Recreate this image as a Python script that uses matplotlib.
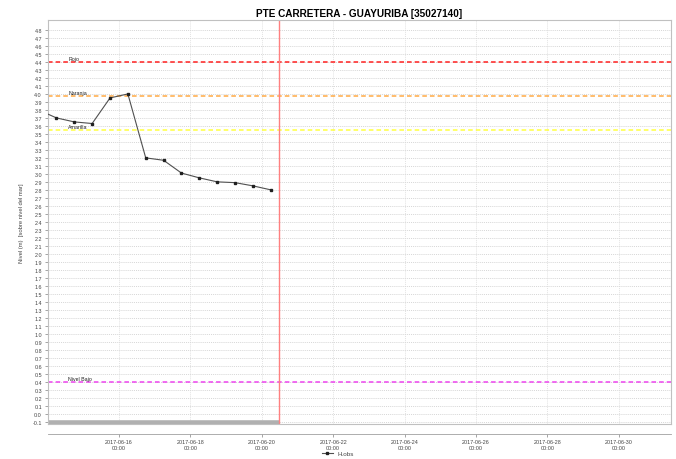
import numpy as np
import pandas as pd
import matplotlib
matplotlib.use('Agg')
import matplotlib.pyplot as plt
import matplotlib.dates as mdates

plt.rcParams['font.family'] = ['Liberation Sans', 'DejaVu Sans']

# observed level every 12 h (first point lies just left of the view)
obs_times = pd.date_range('2017-06-13 18:00', '2017-06-20 06:00', freq='12h')
obs_values = [3.80, 3.70, 3.65, 3.63, 3.95, 4.00, 3.20, 3.17, 3.01, 2.95, 2.90, 2.89, 2.85, 2.80]

# alert thresholds
thr_names = ['Rojo', 'Naranja', 'Amarilla', 'Nivel Bajo']
thr_values = [4.40, 3.97, 3.55, 0.39]
thr_colors = ['#ff2020', '#ffaa44', '#ffff40', '#ee44ee']

now_time = pd.Timestamp('2017-06-20 11:25')
x_start = pd.Timestamp('2017-06-14 00:00')
x_end = pd.Timestamp('2017-07-01 11:00')
y_ticks = np.round(np.arange(-0.1, 4.81, 0.1), 1)
x_ticks = pd.date_range('2017-06-16', '2017-06-30', freq='2D')

fig = plt.figure(figsize=(6.76, 4.60), dpi=100)
ax = fig.add_axes([0.0703, 0.0761, 0.9223, 0.8782])

# grid
for yv in y_ticks:
    ax.axhline(yv, color='#c8c8c8', lw=0.5, ls=(0, (1.5, 1.5)), zorder=0)
for xv in x_ticks:
    ax.axvline(xv, color='#d8d8d8', lw=0.5, ls=(0, (1.5, 1.5)), zorder=0)

# thresholds
label_x = pd.Timestamp('2017-06-14 14:00')
for name, val, col in zip(thr_names, thr_values, thr_colors):
    ax.axhline(val, color=col, lw=1.1, ls=(0, (3, 2)), zorder=2)
    ax.text(label_x, val + 0.015, name, fontsize=3.8, color='#222222',
            va='bottom', ha='left', zorder=3)

# data availability band and current time
ax.plot([x_start, now_time], [-0.115, -0.115], color='#b0b0b0', lw=4,
        solid_capstyle='butt', zorder=1)
ax.axvline(now_time, color='#ff8080', lw=1.0, zorder=2)

ax.plot(obs_times, obs_values, color='#505050', lw=0.8, marker='s',
        markersize=1.5, markerfacecolor='#202020', markeredgecolor='#202020',
        label='H.obs', zorder=4)

ax.set_xlim(x_start, x_end)
ax.set_ylim(-0.13, 4.925)
ax.set_yticks(y_ticks)
ax.set_yticklabels([f'{v:.1f}' for v in y_ticks])
ax.set_xticks(x_ticks)
ax.xaxis.set_major_formatter(mdates.DateFormatter('%Y-%m-%d\n%H:%M'))
ax.tick_params(axis='both', labelsize=3.9, length=2, width=0.5,
               color='#808080', labelcolor='#444444', pad=2)
for lbl in ax.get_xticklabels():
    lbl.set_linespacing(1.5)

for s in ['top', 'right', 'left']:
    ax.spines[s].set_color('#c0c0c0')
    ax.spines[s].set_linewidth(0.8)
ax.spines['bottom'].set_position(('outward', 7))
ax.spines['bottom'].set_color('#a0a0a0')
ax.spines['bottom'].set_linewidth(0.6)
ax.plot([0, 1], [0, 0], transform=ax.transAxes, color='#c0c0c0', lw=0.8,
        clip_on=False, zorder=5)

ax.set_ylabel('Nivel (m)  [sobre nivel del mar]', fontsize=4.2, color='#444444', labelpad=6)
ax.set_title('PTE CARRETERA - GUAYURIBA [35027140]', fontsize=7.2,
             fontweight='bold', pad=3)

fig.legend(loc='center', bbox_to_anchor=(0.5, 0.012), frameon=False,
           fontsize=4.5, handlelength=1.8, borderaxespad=0.0, borderpad=0.0,
           labelcolor='#444444')

fig.savefig('out.png', dpi=100)
